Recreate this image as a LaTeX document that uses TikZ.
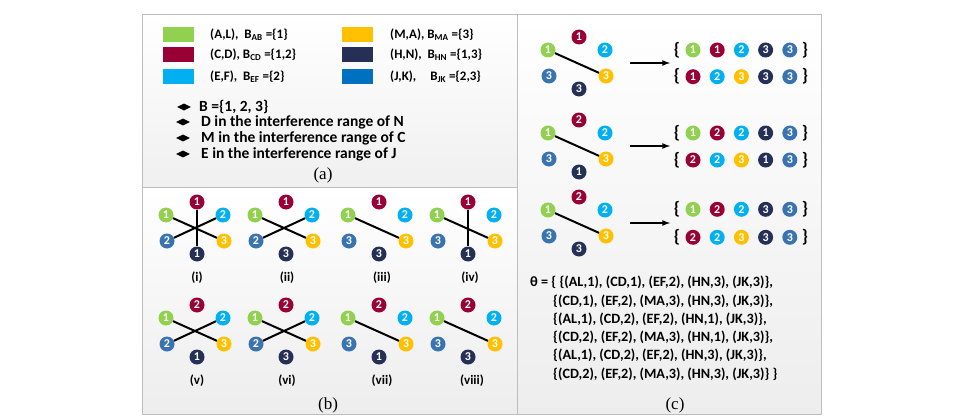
\documentclass[tikz,border=0pt]{standalone}
\usepackage{fontspec}
\setmainfont{Carlito}
\newfontfamily\serifa{Liberation Serif}
\usetikzlibrary{shapes,arrows,positioning,calc}

\definecolor{vert}{HTML}{92D050}
\definecolor{rouge}{HTML}{990033}
\definecolor{ciel}{HTML}{00B0F0}
\definecolor{jaune}{HTML}{FFC000}
\definecolor{marine}{HTML}{262F55}
\definecolor{acier}{HTML}{3A74B0}
\definecolor{bleu}{HTML}{0070C0}
\definecolor{bord}{HTML}{BDBDBD}

\tikzset{
  canal/.style={circle, fill=#1, text=white, inner sep=0pt, minimum size=15pt,
    font=\bfseries\fontsize{12}{12}\selectfont},
  carre/.style={fill=#1, minimum width=31pt, minimum height=15pt, inner sep=0pt},
  lien/.style={line width=2pt},
  texte/.style={font=\bfseries\fontsize{13}{15}\selectfont, anchor=west, inner sep=0pt},
  remarque/.style={texte, font=\bfseries\fontsize{15.5}{17}\selectfont},
  puce/.style={diamond, fill=black, minimum width=14pt, minimum height=7pt, inner sep=0pt},
  legende/.style={font=\bfseries\fontsize{13}{13}\selectfont},
  titre/.style={font=\serifa\fontsize{17}{17}\selectfont}
}

% graphe de conflit : nom, centre, numeros (haut, g1, d1, g2, d2, bas)
\newcommand{\graphe}[8]{%
  \begin{scope}[shift={(#2)}]
    \node[canal=rouge]  (#1h) at (0,-26)   {#3};
    \node[canal=vert]   (#1a) at (-31,-13) {#4};
    \node[canal=ciel]   (#1b) at (26,-13)  {#5};
    \node[canal=acier]  (#1c) at (-30,13)  {#6};
    \node[canal=jaune]  (#1d) at (27,13)   {#7};
    \node[canal=marine] (#1s) at (0,26)    {#8};
  \end{scope}}

% ensemble de canaux : nom, position, liste couleur/numero
\newcommand{\ensemble}[3]{%
  \begin{scope}[shift={(#2)}]
    \node[font=\bfseries\fontsize{18}{18}\selectfont] (#1o) at (-16,0) {\{};
    \foreach \c/\n [count=\i] in {#3}
      \node[canal=\c] (#1\i) at (\i*24.2-24.2,0) {\n};
    \node[font=\bfseries\fontsize{18}{18}\selectfont] (#1f) at (112,0) {\}};
  \end{scope}}

\begin{document}
\begin{tikzpicture}[x=1pt, y=-1pt]
    \useasboundingbox (0,0) rectangle (972,420);

    % fonds des panneaux
    \shade[top color=white, bottom color=gray!12] (142,14) rectangle (517,187);
    \shade[top color=white, bottom color=gray!14] (142,187) rectangle (517,414);
    \shade[top color=white, bottom color=gray!14] (517,14) rectangle (821,414);
    \draw[bord] (142,14) rectangle (821,414);
    \draw[bord] (517,14) -- (517,414);
    \draw[bord] (142,187) -- (517,187);

    % (a) legende
    \node[carre=vert]   (cAL) at (178.5,34.5) {};
    \node[carre=rouge]  (cCD) at (178.5,55)   {};
    \node[carre=ciel]   (cEF) at (178.5,77)   {};
    \node[carre=jaune]  (cMA) at (357,34.5)   {};
    \node[carre=marine] (cHN) at (357,55)     {};
    \node[carre=bleu]   (cJK) at (357,77)     {};
    \node[texte] (tAL) at (210,34.5) {(A,L),\ \ B\textsubscript{AB} =\{1\}};
    \node[texte] (tCD) at (210,55)   {(C,D), B\textsubscript{CD} =\{1,2\}};
    \node[texte] (tEF) at (210,77)   {(E,F),\ \ B\textsubscript{EF} =\{2\}};
    \node[texte] (tMA) at (390,34.5) {(M,A), B\textsubscript{MA} =\{3\}};
    \node[texte] (tHN) at (390,55)   {(H,N),\ \ B\textsubscript{HN} =\{1,3\}};
    \node[texte] (tJK) at (390,77)   {(J,K),\hspace{14pt}B\textsubscript{JK} =\{2,3\}};

    \node[puce] (p1) at (184,107) {};
    \node[puce] (p2) at (183,122) {};
    \node[puce] (p3) at (183,138) {};
    \node[puce] (p4) at (183,154) {};
    \node[remarque] (l1) at (199,107) {B =\{1, 2, 3\}};
    \node[remarque] (l2) at (201,122) {D in the interference range of N};
    \node[remarque] (l3) at (201,138) {M in the interference range of C};
    \node[remarque] (l4) at (201,154) {E in the interference range of J};
    \node[titre] (ta) at (323,175) {(a)};

    % (b) graphes de conflit
    \graphe{b1}{197,228}{1}{1}{2}{2}{3}{1}
    \graphe{b2}{286,228}{1}{1}{2}{2}{3}{3}
    \graphe{b3}{379,228}{1}{1}{2}{3}{3}{3}
    \graphe{b4}{468,228}{1}{1}{2}{3}{3}{1}
    \graphe{b5}{197,331}{2}{1}{2}{2}{3}{1}
    \graphe{b6}{286,331}{2}{1}{2}{2}{3}{3}
    \graphe{b7}{379,331}{2}{1}{2}{3}{3}{1}
    \graphe{b8}{468,331}{2}{1}{2}{3}{3}{3}
    \draw[lien] (b1a) -- (b1d);
    \draw[lien] (b1b) -- (b1c);
    \draw[lien] (b1h) -- (b1s);
    \draw[lien] (b2a) -- (b2d);
    \draw[lien] (b2b) -- (b2c);
    \draw[lien] (b3a) -- (b3d);
    \draw[lien] (b4a) -- (b4d);
    \draw[lien] (b4h) -- (b4s);
    \draw[lien] (b5a) -- (b5d);
    \draw[lien] (b5b) -- (b5c);
    \draw[lien] (b6a) -- (b6d);
    \draw[lien] (b6b) -- (b6c);
    \draw[lien] (b7a) -- (b7d);
    \draw[lien] (b8a) -- (b8d);
    \node[legende] (n1) at (197,278) {(i)};
    \node[legende] (n2) at (287,278) {(ii)};
    \node[legende] (n3) at (382,278) {(iii)};
    \node[legende] (n4) at (470,278) {(iv)};
    \node[legende] (n5) at (197,381) {(v)};
    \node[legende] (n6) at (287,381) {(vi)};
    \node[legende] (n7) at (382,381) {(vii)};
    \node[legende] (n8) at (472,381) {(viii)};
    \node[titre] (tb) at (328,405) {(b)};

    % (c) affectations
    \graphe{c1}{579,63}{1}{1}{2}{3}{3}{3}
    \graphe{c2}{579,146}{2}{1}{2}{3}{3}{1}
    \graphe{c3}{579,223}{2}{1}{2}{3}{3}{3}
    \draw[lien] (c1a) -- (c1d);
    \draw[lien] (c2a) -- (c2d);
    \draw[lien] (c3a) -- (c3d);
    \coordinate (f1) at (630,63);  \coordinate (g1) at (670,63);
    \coordinate (f2) at (630,146); \coordinate (g2) at (670,146);
    \coordinate (f3) at (630,223); \coordinate (g3) at (670,223);
    \draw[line width=1.6pt, -latex] (f1) -- (g1);
    \draw[line width=1.6pt, -latex] (f2) -- (g2);
    \draw[line width=1.6pt, -latex] (f3) -- (g3);
    \ensemble{e1a}{693,50}{vert/1, rouge/1, ciel/2, marine/3, acier/3}
    \ensemble{e1b}{693,76.7}{rouge/1, ciel/2, jaune/3, marine/3, acier/3}
    \ensemble{e2a}{693,133}{vert/1, rouge/2, ciel/2, marine/1, acier/3}
    \ensemble{e2b}{693,160}{rouge/2, ciel/2, jaune/3, marine/1, acier/3}
    \ensemble{e3a}{693,209.3}{vert/1, rouge/2, ciel/2, marine/3, acier/3}
    \ensemble{e3b}{693,237.3}{rouge/2, ciel/2, jaune/3, marine/3, acier/3}

    \node[texte, anchor=north west, align=left, font=\bfseries\fontsize{14.2}{18.3}\selectfont]
      (theta) at (530,276) {θ = \{ \{(AL,1), (CD,1), (EF,2), (HN,3), (JK,3)\},\\
      \hspace*{23pt}\{(CD,1), (EF,2), (MA,3), (HN,3), (JK,3)\},\\
      \hspace*{23pt}\{(AL,1), (CD,2), (EF,2), (HN,1), (JK,3)\},\\
      \hspace*{23pt}\{(CD,2), (EF,2), (MA,3), (HN,1), (JK,3)\},\\
      \hspace*{23pt}\{(AL,1), (CD,2), (EF,2), (HN,3), (JK,3)\},\\
      \hspace*{23pt}\{(CD,2), (EF,2), (MA,3), (HN,3), (JK,3)\} \}};
    \node[titre] (tc) at (675,405) {(c)};
\end{tikzpicture}
\end{document}
